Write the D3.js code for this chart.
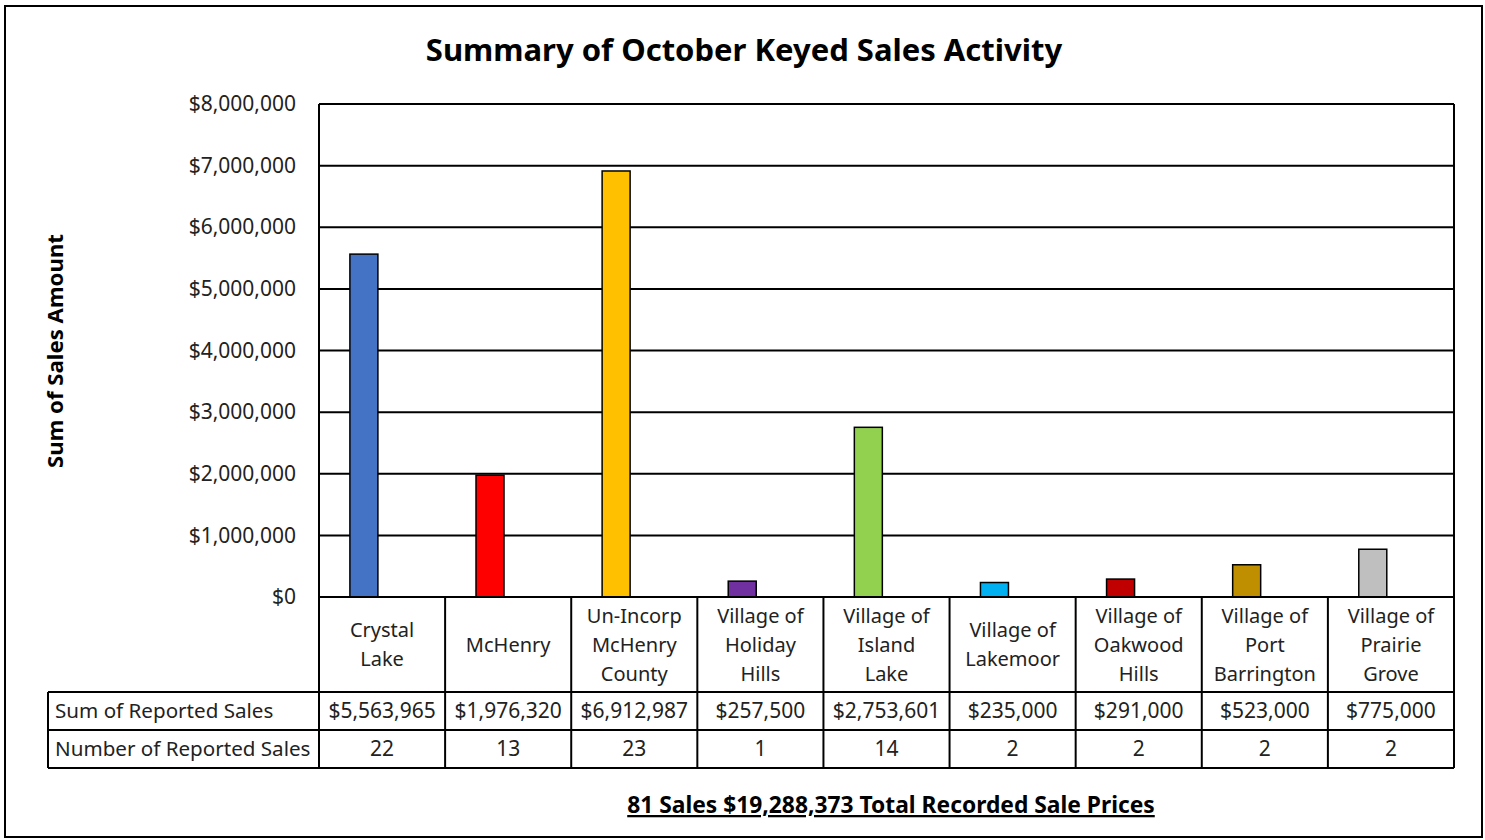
<!DOCTYPE html>
<html><head><meta charset="utf-8">
<script src="https://cdn.jsdelivr.net/npm/d3@7"></script>
<style>
html,body{margin:0;padding:0;background:#fff;}
svg{display:block;font-family:"Noto Sans","Open Sans",sans-serif;}
</style></head>
<body>
<svg id="chart" width="1485" height="840"></svg>
<script>
const categories = [
  ["Crystal","Lake"],
  ["McHenry"],
  ["Un-Incorp","McHenry","County"],
  ["Village of","Holiday","Hills"],
  ["Village of","Island","Lake"],
  ["Village of","Lakemoor"],
  ["Village of","Oakwood","Hills"],
  ["Village of","Port","Barrington"],
  ["Village of","Prairie","Grove"]
];
const salesValues = [5563965, 1976320, 6912987, 257500, 2753601, 235000, 291000, 523000, 775000];
const salesCounts = [22, 13, 23, 1, 14, 2, 2, 2, 2];
const barColors = ["#4472C4","#FF0000","#FFC000","#7030A0","#92D050","#00B0F0","#C00000","#BF8F00","#BFBFBF"];
const yTicks = [0,1000000,2000000,3000000,4000000,5000000,6000000,7000000,8000000];
const rowLabels = ["Sum of Reported Sales","Number of Reported Sales"];
const titleText = "Summary of October Keyed Sales Activity";
const yTitle = "Sum of Sales Amount";
const footerText = "81 Sales $19,288,373 Total Recorded Sale Prices";

const svg = d3.select("#chart");
const L = 319, R = 1454, T = 104, B = 597;
const row1 = 692, row2 = 730, row3 = 768, tableLeft = 48;
const FS = 20, FN = 21;

svg.append("rect").attr("x",5).attr("y",6).attr("width",1477).attr("height",831)
  .attr("fill","#fff").attr("stroke","#000").attr("stroke-width",2);

const x = d3.scaleBand().domain(d3.range(categories.length)).range([L,R]).padding(0);
const y = d3.scaleLinear().domain([0,8000000]).range([B,T]);
const fmt = d3.format("$,.0f");

// gridlines
svg.append("g").selectAll("line").data(yTicks).join("line")
  .attr("x1",L).attr("x2",R).attr("y1",d=>y(d)).attr("y2",d=>y(d))
  .attr("stroke","#000").attr("stroke-width",2);
// plot frame
svg.append("line").attr("x1",L).attr("x2",L).attr("y1",T).attr("y2",row3).attr("stroke","#000").attr("stroke-width",2);
svg.append("line").attr("x1",R).attr("x2",R).attr("y1",T).attr("y2",row3).attr("stroke","#000").attr("stroke-width",2);

// y axis labels
const yAxis = d3.axisLeft(y).tickValues(yTicks).tickFormat(fmt).tickSize(0).tickPadding(23);
const ga = svg.append("g").attr("transform",`translate(${L},0)`).call(yAxis);
ga.select(".domain").remove();
ga.selectAll("text").attr("font-size",FN).attr("fill","#222").attr("font-family","'Noto Sans', sans-serif");

// bars
const bw = x.bandwidth();
svg.append("g").selectAll("rect").data(salesValues).join("rect")
  .attr("x",(d,i)=>x(i)+bw*0.245)
  .attr("width",bw*0.222)
  .attr("y",d=>y(d))
  .attr("height",d=>B-y(d))
  .attr("fill",(d,i)=>barColors[i])
  .attr("stroke","#000").attr("stroke-width",1.5);
svg.append("line").attr("x1",L).attr("x2",R).attr("y1",B).attr("y2",B).attr("stroke","#000").attr("stroke-width",2);

// table lines
const tbl = svg.append("g").attr("stroke","#000").attr("stroke-width",2);
[row1,row2,row3].forEach(yy=>tbl.append("line").attr("x1",tableLeft).attr("x2",R).attr("y1",yy).attr("y2",yy));
tbl.append("line").attr("x1",tableLeft).attr("x2",tableLeft).attr("y1",row1).attr("y2",row3);
d3.range(1,categories.length).forEach(i=>tbl.append("line").attr("x1",x(i)).attr("x2",x(i)).attr("y1",B).attr("y2",row3));

// category labels
const cg = svg.append("g").attr("font-size",FS).attr("fill","#222").attr("text-anchor","middle");
categories.forEach((lines,i)=>{
  const cy = (B+row1)/2;
  const lh = 29;
  const t = cg.append("text").attr("x",x(i)+bw/2);
  lines.forEach((ln,k)=>{
    t.append("tspan").attr("x",x(i)+bw/2).attr("y",cy + (k-(lines.length-1)/2)*lh + 7).text(ln);
  });
});
// table values
const tg = svg.append("g").attr("font-size",FN).attr("fill","#222");
tg.selectAll(".sv").data(salesValues).join("text").attr("class","sv")
  .attr("x",(d,i)=>x(i)+bw/2).attr("y",(row1+row2)/2+7).attr("text-anchor","middle").text(d=>fmt(d));
tg.selectAll(".sc").data(salesCounts).join("text").attr("class","sc")
  .attr("x",(d,i)=>x(i)+bw/2).attr("y",(row2+row3)/2+7).attr("text-anchor","middle").text(d=>d);
rowLabels.forEach((lab,k)=>{
  tg.append("text").attr("x",tableLeft+7).attr("y",(k===0?(row1+row2)/2:(row2+row3)/2)+7)
    .attr("font-size",20.6).text(lab);
});

// title
svg.append("text").attr("x",744).attr("y",61).attr("text-anchor","middle")
  .attr("font-size",31).attr("font-weight","bold").attr("fill","#000").text(titleText);
// y title
svg.append("text").attr("transform","translate(63,351) rotate(-90)").attr("text-anchor","middle")
  .attr("font-size",22.2).attr("font-weight","bold").attr("fill","#000").text(yTitle);
// footer
svg.append("text").attr("x",891).attr("y",813).attr("text-anchor","middle")
  .attr("font-size",22.8).attr("font-weight","bold").attr("fill","#000")
  .attr("text-decoration","underline").text(footerText);
</script>
</body></html>
